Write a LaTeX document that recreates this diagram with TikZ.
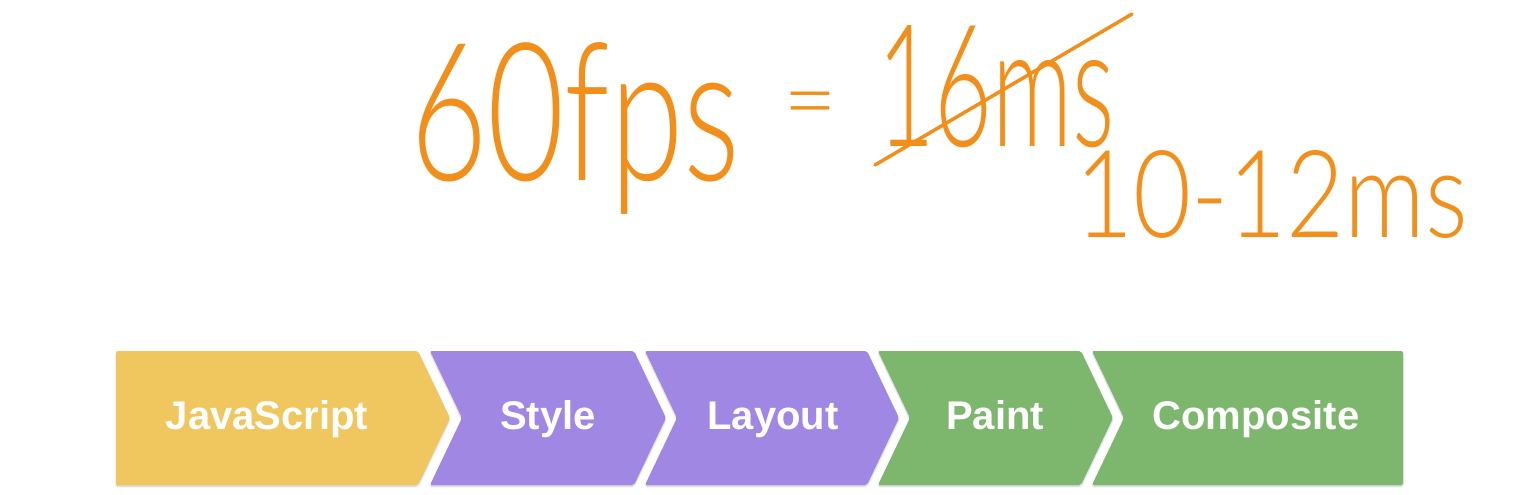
\documentclass[tikz,border=0pt]{standalone}
\usepackage{tikz}
\usetikzlibrary{shadows.blur}
\usepackage{fontspec}
\usepackage{xcolor}
\setmainfont{Liberation Sans}
\newfontfamily\handfont{Lato Light}

\definecolor{jsyellow}{RGB}{239,199,94}
\definecolor{stagepurple}{RGB}{159,135,227}
\definecolor{stagegreen}{RGB}{125,183,109}
\definecolor{penorange}{RGB}{241,143,26}

\tikzset{
  stage/.style={rounded corners=2pt, blur shadow={shadow xshift=0pt, shadow yshift=-1.5pt, shadow opacity=20, shadow blur radius=1.5pt}},
  stagelabel/.style={anchor=base, inner sep=0pt, text=white, font=\fontsize{40}{40}\selectfont\bfseries},
  pen/.style={anchor=base west, inner sep=0pt, text=penorange, font=\handfont\fontsize{160}{160}\selectfont}
}

\begin{document}
\begin{tikzpicture}[x=1pt,y=1pt,yscale=-1,xscale=1]
\useasboundingbox (0,0) rectangle (1531,495);

%Shape: Chevron JavaScript
\fill [stage, jsyellow] (116,351) -- (418,351) -- (450,418) -- (418,485) -- (116,485) -- cycle ;
%Shape: Chevron Style
\fill [stage, stagepurple] (430,351) -- (634,351) -- (666,418) -- (634,485) -- (430,485) -- (462,418) -- cycle ;
%Shape: Chevron Layout
\fill [stage, stagepurple] (645,351) -- (867,351) -- (899,418) -- (867,485) -- (645,485) -- (677,418) -- cycle ;
%Shape: Chevron Paint
\fill [stage, stagegreen] (878,351) -- (1081,351) -- (1113,418) -- (1081,485) -- (878,485) -- (910,418) -- cycle ;
%Shape: Chevron Composite
\fill [stage, stagegreen] (1092,351) -- (1403,351) -- (1403,485) -- (1092,485) -- (1124,418) -- cycle ;

% Text Node
\node [stagelabel] (js) at (267,429) {JavaScript};
% Text Node
\node [stagelabel] (style) at (548,429) {Style};
% Text Node
\node [stagelabel] (layout) at (773,429) {Layout};
% Text Node
\node [stagelabel] (paint) at (995,429) {Paint};
% Text Node
\node [stagelabel] (composite) at (1256,429) {Composite};

% Text Node
\node [pen] (fps) at (410,180) {\resizebox{330pt}{138pt}{60fps}};
% Text Node
\node [pen, anchor=center] (eq) at (810,112) {\resizebox{54pt}{!}{=}};
% Text Node
\node [pen] (frame) at (877,146) {\resizebox{238pt}{121pt}{16ms}};
% Text Node
\node [pen] (budget) at (1075,237) {\resizebox{393pt}{87pt}{10-12ms}};

%Straight Lines
\coordinate (strikeA) at (875,165);
\coordinate (strikeB) at (1132,14);
\draw [penorange, line width=3.5pt, line cap=round] (strikeA) -- (strikeB) ;

\end{tikzpicture}
\end{document}
